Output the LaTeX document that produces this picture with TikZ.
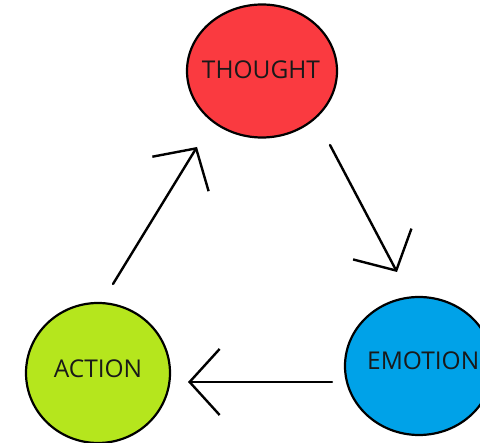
\documentclass[tikz,border=0pt]{standalone}
\usepackage{fontspec}
\setmainfont{Open Sans}
\usetikzlibrary{arrows.meta}
\usetikzlibrary{shapes.geometric}
\definecolor{thoughtred}{HTML}{FA3A40}
\definecolor{actiongreen}{HTML}{B5E61D}
\definecolor{emotionblue}{HTML}{00A2E8}
\tikzset{blob/.style = {ellipse, draw, line width = 2.2pt, inner sep = 0}}
\tikzset{word/.style = {font = \fontsize{24.5}{26}\selectfont, text = black!90}}
\tikzset{cyc/.style = {-{Straight Barb[length = 30pt, width = 66pt, line width = 2.4pt]},
                       line width = 2.4pt, line cap = round}}

\begin{document}
\begin{tikzpicture}[x = 1pt, y = -1pt]
    \useasboundingbox (0, 0) rectangle (480, 443);

    \node [blob, fill = thoughtred, minimum width = 150, minimum height = 133] (thought) at (262, 71) {};
    \node [blob, fill = actiongreen, minimum width = 144, minimum height = 140] (action) at (98, 373) {};
    \node [blob, fill = emotionblue, minimum width = 148, minimum height = 138] (emotion) at (419, 366) {};

    \node [word] (thoughttext) at (261, 70) {THOUGHT};
    \node [word] (actiontext) at (98, 369) {ACTION};
    \node [word, anchor = west, inner sep = 0] (emotiontext) at (367, 361) {EMOTION};

    \coordinate (a1) at (113, 284);
    \coordinate (t1) at (197, 147);
    \coordinate (t2) at (330, 145);
    \coordinate (e2) at (397, 272);
    \coordinate (e3) at (332, 382);
    \coordinate (a3) at (188, 382);

    \draw [cyc] (a1) -- (t1);
    \draw [cyc] (t2) -- (e2);
    \draw [cyc] (e3) -- (a3);
  \end{tikzpicture}
\end{document}
